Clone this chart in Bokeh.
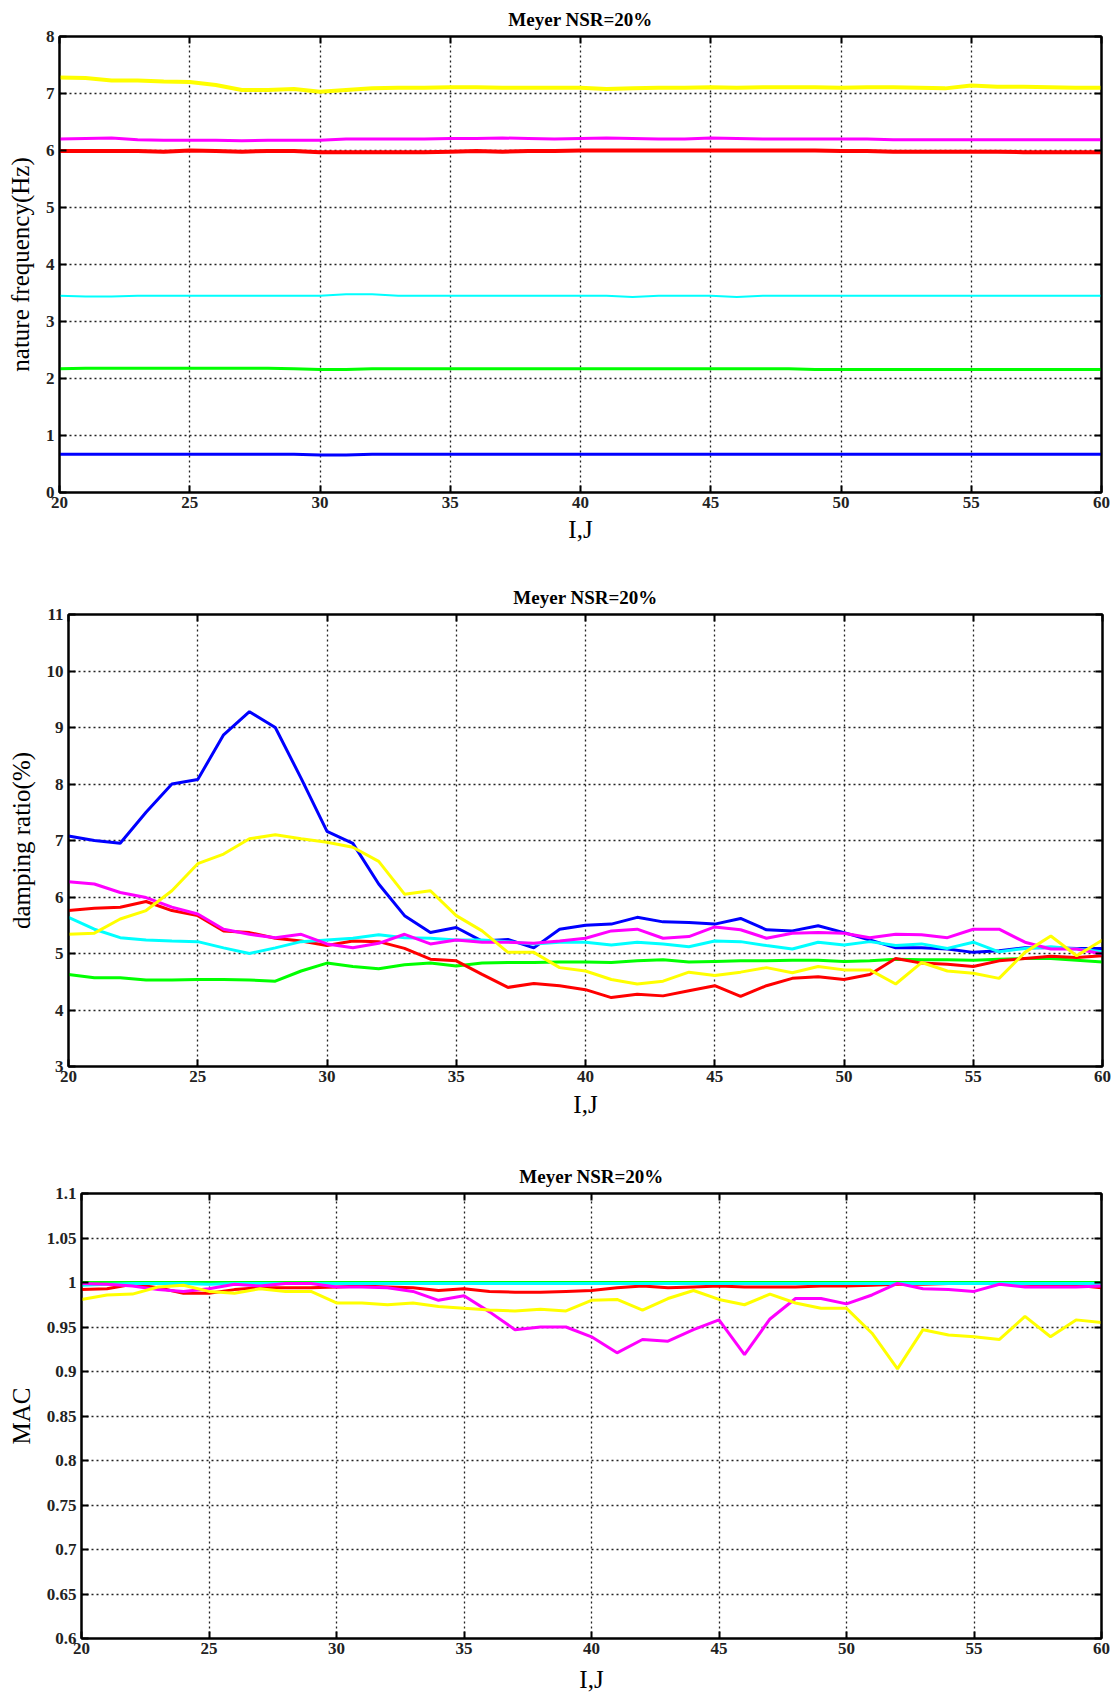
from bokeh.plotting import figure
from bokeh.models import Range1d, FixedTicker, LinearAxis, CustomJSTickFormatter
from bokeh.embed import file_html
from bokeh.resources import INLINE

ij = list(range(20, 61))
x_ticks = [20, 25, 30, 35, 40, 45, 50, 55, 60]
freq_ticks = [0, 1, 2, 3, 4, 5, 6, 7, 8]
damp_ticks = [3, 4, 5, 6, 7, 8, 9, 10, 11]
mac_ticks = [0.6, 0.65, 0.7, 0.75, 0.8, 0.85, 0.9, 0.95, 1.0, 1.05, 1.1]
title_text = "Meyer NSR=20%"
xlabel = "I,J"
ylabel_freq = "nature frequency(Hz)"
ylabel_damp = "damping ratio(%)"
ylabel_mac = "MAC"

# ---- natural frequency (Hz) ----
freq_blue = [0.67, 0.67, 0.67, 0.67, 0.67, 0.67, 0.67, 0.67, 0.67, 0.67,
             0.66, 0.66, 0.67, 0.67, 0.67, 0.67, 0.67, 0.67, 0.67, 0.67,
             0.67, 0.67, 0.67, 0.67, 0.67, 0.67, 0.67, 0.67, 0.67, 0.67,
             0.67, 0.67, 0.67, 0.67, 0.67, 0.67, 0.67, 0.67, 0.67, 0.67, 0.67]
freq_green = [2.17, 2.18, 2.18, 2.18, 2.18, 2.18, 2.18, 2.18, 2.18, 2.17,
              2.16, 2.16, 2.17, 2.17, 2.17, 2.17, 2.17, 2.17, 2.17, 2.17,
              2.17, 2.17, 2.17, 2.17, 2.17, 2.17, 2.17, 2.17, 2.17, 2.16,
              2.16, 2.16, 2.16, 2.16, 2.16, 2.16, 2.16, 2.16, 2.16, 2.16, 2.16]
freq_cyan = [3.45, 3.44, 3.44, 3.45, 3.45, 3.45, 3.45, 3.45, 3.45, 3.45,
             3.45, 3.48, 3.48, 3.45, 3.45, 3.45, 3.45, 3.45, 3.45, 3.45,
             3.45, 3.45, 3.43, 3.45, 3.45, 3.45, 3.43, 3.45, 3.45, 3.45,
             3.45, 3.45, 3.45, 3.45, 3.45, 3.45, 3.45, 3.45, 3.45, 3.45, 3.45]
freq_red = [5.99, 5.99, 5.99, 5.99, 5.98, 6.0, 5.99, 5.98, 5.99, 5.99,
            5.97, 5.97, 5.97, 5.97, 5.97, 5.98, 5.99, 5.98, 5.99, 5.99,
            6.0, 6.0, 6.0, 6.0, 6.0, 6.0, 6.0, 6.0, 6.0, 6.0,
            5.99, 5.99, 5.98, 5.98, 5.98, 5.98, 5.98, 5.97, 5.97, 5.97, 5.97]
freq_magenta = [6.2, 6.21, 6.22, 6.19, 6.18, 6.18, 6.18, 6.17, 6.18, 6.18,
                6.18, 6.2, 6.2, 6.2, 6.2, 6.21, 6.21, 6.22, 6.21, 6.2,
                6.21, 6.22, 6.21, 6.2, 6.2, 6.22, 6.21, 6.2, 6.2, 6.2,
                6.2, 6.2, 6.19, 6.19, 6.19, 6.19, 6.19, 6.19, 6.19, 6.19, 6.19]
freq_yellow = [7.28, 7.27, 7.23, 7.23, 7.21, 7.2, 7.15, 7.06, 7.06, 7.08,
               7.03, 7.06, 7.09, 7.1, 7.1, 7.11, 7.11, 7.1, 7.1, 7.1,
               7.1, 7.08, 7.09, 7.1, 7.1, 7.11, 7.1, 7.11, 7.11, 7.11,
               7.1, 7.11, 7.11, 7.1, 7.09, 7.14, 7.12, 7.12, 7.11, 7.1, 7.1]

# ---- damping ratio (%) ----
damp_blue = [7.08, 7.0, 6.95, 7.5, 8.0, 8.08, 8.87, 9.28, 9.0, 8.1,
             7.16, 6.95, 6.23, 5.67, 5.37, 5.46, 5.22, 5.25, 5.1, 5.43,
             5.5, 5.52, 5.64, 5.56, 5.55, 5.52, 5.62, 5.42, 5.4, 5.49,
             5.37, 5.24, 5.1, 5.1, 5.08, 5.02, 5.05, 5.1, 5.1, 5.09, 5.09]
damp_green = [4.63, 4.57, 4.57, 4.53, 4.53, 4.54, 4.54, 4.53, 4.51, 4.69,
              4.83, 4.77, 4.73, 4.8, 4.83, 4.78, 4.83, 4.84, 4.84, 4.85,
              4.85, 4.84, 4.87, 4.89, 4.85, 4.86, 4.87, 4.87, 4.88, 4.88,
              4.86, 4.87, 4.9, 4.89, 4.89, 4.88, 4.9, 4.91, 4.91, 4.88, 4.85]
damp_red = [5.76, 5.8, 5.82, 5.92, 5.76, 5.67, 5.4, 5.37, 5.27, 5.22,
            5.14, 5.22, 5.21, 5.09, 4.9, 4.87, 4.63, 4.4, 4.47, 4.43,
            4.36, 4.22, 4.28, 4.25, 4.34, 4.43, 4.24, 4.43, 4.56, 4.59,
            4.54, 4.63, 4.91, 4.83, 4.81, 4.77, 4.87, 4.91, 4.95, 4.93, 4.96]
damp_cyan = [5.64, 5.43, 5.28, 5.24, 5.22, 5.21, 5.1, 5.0, 5.1, 5.21,
             5.24, 5.27, 5.33, 5.28, 5.27, 5.24, 5.24, 5.21, 5.17, 5.2,
             5.2, 5.15, 5.2, 5.17, 5.12, 5.22, 5.21, 5.14, 5.08, 5.2,
             5.15, 5.21, 5.14, 5.17, 5.09, 5.2, 5.03, 5.09, 5.12, 5.08, 5.03]
damp_magenta = [6.27, 6.23, 6.08, 5.99, 5.82, 5.7, 5.43, 5.34, 5.28, 5.34,
                5.17, 5.1, 5.18, 5.34, 5.17, 5.24, 5.2, 5.2, 5.18, 5.22,
                5.27, 5.4, 5.43, 5.27, 5.3, 5.47, 5.42, 5.27, 5.36, 5.37,
                5.36, 5.28, 5.34, 5.33, 5.28, 5.43, 5.43, 5.2, 5.08, 5.08, 4.99]
damp_yellow = [5.34, 5.36, 5.61, 5.76, 6.11, 6.59, 6.76, 7.03, 7.1, 7.03,
               6.97, 6.88, 6.63, 6.05, 6.11, 5.67, 5.4, 5.02, 5.02, 4.75,
               4.69, 4.54, 4.46, 4.51, 4.67, 4.61, 4.67, 4.75, 4.66, 4.77,
               4.71, 4.71, 4.46, 4.84, 4.69, 4.65, 4.56, 5.02, 5.31, 4.96, 5.24]

# ---- MAC ----
mac_blue = [1.0, 1.0, 1.0, 1.0, 1.0, 1.0, 1.0, 1.0, 1.0, 1.0,
            1.0, 1.0, 1.0, 1.0, 1.0, 1.0, 1.0, 1.0, 1.0, 1.0,
            1.0, 1.0, 1.0, 1.0, 1.0, 1.0, 1.0, 1.0, 1.0, 1.0,
            1.0, 1.0, 1.0, 1.0, 1.0, 1.0, 1.0, 1.0, 1.0, 1.0, 1.0]
mac_green = [1.0, 1.0, 1.0, 1.0, 1.0, 1.0, 1.0, 1.0, 1.0, 1.0,
             1.0, 1.0, 1.0, 1.0, 1.0, 1.0, 1.0, 1.0, 1.0, 1.0,
             1.0, 1.0, 1.0, 1.0, 1.0, 1.0, 1.0, 1.0, 1.0, 1.0,
             1.0, 1.0, 1.0, 1.0, 1.0, 1.0, 1.0, 1.0, 1.0, 1.0, 1.0]
mac_red = [0.992, 0.993, 0.998, 0.994, 0.988, 0.988, 0.992, 0.994, 0.994, 0.994,
           0.995, 0.996, 0.995, 0.994, 0.991, 0.993, 0.99, 0.989, 0.989, 0.99,
           0.991, 0.994, 0.996, 0.994, 0.995, 0.996, 0.995, 0.995, 0.995, 0.996,
           0.996, 0.997, 0.998, 0.998, 0.999, 0.999, 0.999, 0.998, 0.997, 0.997, 0.994]
mac_cyan = [0.997, 0.998, 0.999, 0.999, 0.999, 0.998, 0.999, 0.999, 0.999, 0.999,
            0.999, 0.999, 0.999, 0.999, 0.999, 0.999, 0.999, 0.999, 0.999, 0.999,
            0.999, 0.999, 0.999, 0.999, 0.999, 0.999, 0.999, 0.999, 0.999, 0.999,
            0.999, 0.999, 0.999, 0.999, 0.999, 0.999, 0.999, 0.999, 0.999, 0.999, 0.999]
mac_magenta = [0.999, 0.998, 0.996, 0.992, 0.99, 0.993, 0.998, 0.996, 0.999, 0.999,
               0.995, 0.995, 0.994, 0.99, 0.98, 0.985, 0.967, 0.947, 0.95, 0.95,
               0.939, 0.921, 0.936, 0.934, 0.947, 0.958, 0.919, 0.959, 0.982, 0.982,
               0.976, 0.986, 0.999, 0.993, 0.992, 0.99, 0.998, 0.995, 0.995, 0.995, 0.996]
mac_yellow = [0.981, 0.986, 0.987, 0.995, 0.997, 0.99, 0.988, 0.993, 0.99, 0.99,
              0.977, 0.977, 0.975, 0.977, 0.973, 0.971, 0.969, 0.968, 0.97, 0.968,
              0.98, 0.981, 0.969, 0.982, 0.991, 0.981, 0.975, 0.987, 0.977, 0.971,
              0.971, 0.943, 0.903, 0.947, 0.941, 0.939, 0.936, 0.962, 0.939, 0.958, 0.955]

BLUE, GREEN, RED, CYAN, MAGENTA, YELLOW = "#0000ff", "#00ff00", "#ff0000", "#00ffff", "#ff00ff", "#ffff00"
FONT = "Liberation Serif"


def make_fig(yr, yticks, ylabel, frame_w, frame_h, left, right, top, bottom,
             xlab_standoff, fmt=None):
    p = figure(frame_width=frame_w, frame_height=frame_h,
               min_border_left=left, min_border_right=right,
               min_border_top=top, min_border_bottom=bottom,
               x_range=Range1d(20, 60), y_range=Range1d(*yr),
               output_backend="svg", toolbar_location=None,
               title=title_text)
    p.title.align = "center"
    p.title.text_font = FONT
    p.title.text_font_size = "19px"
    p.title.text_font_style = "bold"
    p.title.text_color = "black"
    p.title.standoff = 13
    p.outline_line_color = "black"
    p.outline_line_width = 2
    p.background_fill_color = "white"
    p.border_fill_color = "white"

    xt = FixedTicker(ticks=x_ticks)
    yt = FixedTicker(ticks=yticks)
    p.xaxis.ticker = xt
    p.yaxis.ticker = yt
    p.xgrid.ticker = xt
    p.ygrid.ticker = yt
    for g in (p.xgrid, p.ygrid):
        g.grid_line_color = "#222222"
        g.grid_line_dash = "2 3"
        g.grid_line_width = 1.3
    for ax in (p.xaxis[0], p.yaxis[0]):
        ax.axis_line_width = 2
        ax.major_tick_line_width = 2
        ax.major_tick_in = 7
        ax.major_tick_out = 0
        ax.minor_tick_line_color = None
        ax.major_label_text_font = FONT
        ax.major_label_text_font_style = "bold"
        ax.major_label_text_font_size = "17px"
        ax.major_label_text_color = "#222222"
        ax.axis_label_text_font = FONT
        ax.axis_label_text_font_style = "normal"
        ax.axis_label_text_font_size = "25px"
        ax.axis_label_text_color = "black"
    p.xaxis.axis_label = xlabel
    p.yaxis.axis_label = ylabel
    p.xaxis.major_label_standoff = 4
    p.yaxis.major_label_standoff = 5
    p.xaxis.axis_label_standoff = xlab_standoff
    p.yaxis.axis_label_standoff = 9
    if fmt is not None:
        p.yaxis.formatter = fmt

    empty = CustomJSTickFormatter(code="return '';")
    for loc, tk in (("right", yt), ("above", xt)):
        ax = LinearAxis(ticker=tk, formatter=empty)
        ax.axis_line_width = 2
        ax.major_tick_line_width = 2
        ax.major_tick_in = 7
        ax.major_tick_out = 0
        ax.minor_tick_line_color = None
        ax.major_label_text_font_size = "0px"
        ax.major_label_standoff = 0
        p.add_layout(ax, loc)
    return p


def add_lines(p, series, widths):
    for (ys, col), w in zip(series, widths):
        p.line(ij, ys, line_color=col, line_width=w)


p1 = make_fig((0, 8), freq_ticks, ylabel_freq, 1042, 456, 59, 17, 35, 69, 5)
add_lines(p1, [(freq_blue, BLUE), (freq_green, GREEN), (freq_red, RED),
               (freq_cyan, CYAN), (freq_magenta, MAGENTA), (freq_yellow, YELLOW)],
          [3, 3, 4, 2, 3, 4])

p2 = make_fig((3, 11), damp_ticks, ylabel_damp, 1034, 452, 68, 16, 53, 75, 6)
add_lines(p2, [(damp_blue, BLUE), (damp_green, GREEN), (damp_red, RED),
               (damp_cyan, CYAN), (damp_magenta, MAGENTA), (damp_yellow, YELLOW)],
          [3, 3, 3, 3, 3, 3])

mac_fmt = CustomJSTickFormatter(code="return String(Math.round(tick * 100) / 100);")
p3 = make_fig((0.6, 1.1), mac_ticks, ylabel_mac, 1020, 445, 81, 17, 52, 55, 9, fmt=mac_fmt)
add_lines(p3, [(mac_blue, BLUE), (mac_green, GREEN), (mac_red, RED),
               (mac_cyan, CYAN), (mac_magenta, MAGENTA), (mac_yellow, YELLOW)],
          [3, 3, 3, 3, 3, 3])

open("out.html", "w").write(file_html([p1, p2, p3], INLINE))
